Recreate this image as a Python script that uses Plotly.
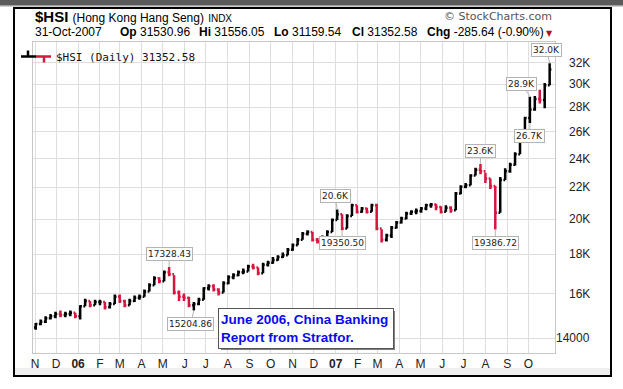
import numpy as np
import pandas as pd
import plotly.graph_objects as go

# ---------------- data (weekly bars) ----------------
dates = pd.date_range("2005-11-02", "2007-10-31", freq="W-WED")

close = [14600, 14700, 14850, 14950, 15050, 15000, 15050, 15100, 14950,
         15400, 15650, 15450, 15600, 15600, 15350, 15500, 15850,
         15650, 15450, 15650, 15800, 15850, 16100, 16400, 16750, 16600,
         17050, 16950, 16050, 15850, 15800, 15450, 15500, 15700, 16250,
         16350, 16200, 16050, 16500, 16800, 16900, 17050, 17100, 17350,
         17300, 17000, 17450, 17550, 17700, 17850, 17950, 18250,
         18500, 18800, 19150, 19250, 18800, 18700, 18950, 19250, 19950,
         20300, 19450, 20200, 20850, 20450, 20650, 20450, 20850, 19450,
         18800, 19050, 19500, 19800, 20050, 20350, 20450, 20500,
         20650, 20850, 20900, 20750, 20450, 20700, 20550, 21600, 22050,
         22150, 22800, 23200, 23100, 22600, 22100, 20400, 22500, 23100,
         23550, 24300, 25300, 27100, 27800, 28700, 28600, 29900, 31352.58]

high = [14650, 14800, 14950, 15050, 15150, 15200, 15150, 15200, 15100,
        15450, 15750, 15650, 15700, 15700, 15600, 15600, 15950,
        15950, 15700, 15750, 15900, 15950, 16200, 16500, 16850, 16800,
        17150, 17328.43, 16900, 16150, 16000, 15850, 15600, 15800, 16300,
        16450, 16450, 16250, 16600, 16900, 17000, 17150, 17250, 17450,
        17500, 17300, 17550, 17650, 17850, 17950, 18100, 18350,
        18600, 18900, 19250, 19350, 19250, 18900, 19050, 19350, 20050,
        20600, 20300, 20300, 20950, 20850, 20750, 20700, 20950, 20950,
        19400, 19150, 19600, 19900, 20150, 20450, 20550, 20650,
        20750, 20950, 21000, 20950, 20800, 20850, 20800, 21700, 22150,
        22300, 22900, 23350, 23600, 23000, 22600, 22100, 22700, 23300,
        23700, 24450, 25450, 27200, 28900, 28950, 29500, 30100, 31958]

low = [14350, 14550, 14650, 14800, 14850, 14900, 14900, 14950, 14850,
       14800, 15400, 15350, 15450, 15450, 15250, 15300, 15500,
       15550, 15350, 15450, 15600, 15700, 15850, 16100, 16400, 16500,
       16600, 16850, 15950, 15650, 15650, 15350, 15204.86, 15450, 15700,
       16150, 16100, 15900, 16050, 16450, 16700, 16850, 16950, 17100,
       17200, 16900, 17000, 17350, 17500, 17650, 17800, 17950,
       18200, 18500, 18800, 19050, 18700, 18600, 18650, 18950, 19250,
       19950, 19350.50, 19450, 20200, 20350, 20400, 20350, 20450, 19350,
       18650, 18700, 18900, 19450, 19750, 20000, 20250, 20300,
       20400, 20550, 20700, 20550, 20350, 20450, 20400, 20550, 21550,
       21950, 22150, 22800, 22900, 22300, 21900, 19386.72, 20400, 22500,
       23000, 23500, 24300, 25300, 26700, 27700, 28300, 27900, 29900]

first_open = 14450
opens = [first_open] + close[:-1]

month_starts = pd.date_range("2005-11-01", "2007-10-01", freq="MS")
month_labels = ["N", "D", "<b>06</b>", "F", "M", "A", "M", "J", "J", "A", "S", "O",
                "N", "D", "<b>07</b>", "F", "M", "A", "M", "J", "J", "A", "S", "O"]

ytick_vals = [14000, 16000, 18000, 20000, 22000, 24000, 26000, 28000, 30000, 32000]
ytick_text = ["14000", "16K", "18K", "20K", "22K", "24K", "26K", "28K", "30K", "32K"]

label_idx = [27, 32, 61, 62, 90, 93, 100, 100, 104]
label_kind = ["high", "low", "high", "low", "high", "low", "low", "high", "high"]
label_text = ["17328.43", "15204.86", "20.6K", "19350.50", "23.6K", "19386.72",
              "26.7K", "28.9K", "32.0K"]
label_dx = [0, -3, -2, 0, 0, 0, 0, -8, -3]

header_title = "$HSI"
header_name = "(Hong Kong Hang Seng)"
header_exch = "INDX"
quote_date = "31-Oct-2007"
quote_fields = [("Op", "31530.96"), ("Hi", "31556.05"), ("Lo", "31159.54"),
                ("Cl", "31352.58"), ("Chg", "-285.64 (-0.90%)")]
legend_name = "$HSI (Daily) 31352.58"
note_text = "June 2006, China Banking<br>Report from Stratfor."

# ---------------- layout helpers (pixel -> paper) ----------------
W, H = 623, 389
PL, PR, PT, PB = 33, 555, 42, 353


def px(x):
    return (x - PL) / (PR - PL)


def py(y):
    return (PB - y) / (PB - PT)


fig = go.Figure()
fig.add_trace(go.Ohlc(
    x=dates, open=opens, high=high, low=low, close=close,
    increasing_line_color="#000000", decreasing_line_color="#d8143f",
    line_width=2.5, tickwidth=0.35, name=legend_name, showlegend=True,
    hoverinfo="skip"))

ann = []
# data labels
for i, k, t, dx in zip(label_idx, label_kind, label_text, label_dx):
    v = high[i] if k == "high" else low[i]
    ann.append(dict(x=dates[i], y=np.log10(v), xref="x", yref="y", text=t,
                    showarrow=True, arrowhead=0, arrowwidth=1, arrowcolor="#b4b4b4",
                    ax=dx, ay=(-13 if k == "high" else 13), standoff=0,
                    bgcolor="white", bordercolor="#b4b4b4", borderwidth=1, borderpad=1,
                    font=dict(family="DejaVu Sans", size=9, color="#222")))
# right-aligned y tick labels
for v, t in zip(ytick_vals, ytick_text):
    ann.append(dict(x=px(592), y=np.log10(v), xref="paper", yref="y", text=t,
                    showarrow=False, xanchor="right", yanchor="middle",
                    font=dict(family="Liberation Sans", size=12, color="#222")))
# header
ann.append(dict(x=px(33), y=py(17), xref="paper", yref="paper", showarrow=False,
                xanchor="left", yanchor="middle",
                text=f"<b>{header_title}</b> <span style='font-size:12px'>{header_name}</span> "
                     f"<span style='font-size:10px'>{header_exch}</span>",
                font=dict(family="Liberation Sans", size=15, color="#000")))
ann.append(dict(x=px(554), y=py(17), xref="paper", yref="paper", showarrow=False,
                xanchor="right", yanchor="middle", text="© StockCharts.com",
                font=dict(family="DejaVu Sans", size=11, color="#555")))
ann.append(dict(x=px(33), y=py(32), xref="paper", yref="paper", showarrow=False,
                xanchor="left", yanchor="middle", text=quote_date,
                font=dict(family="Liberation Sans", size=12, color="#000")))
qx = [118, 197, 272, 350, 425]
for (lab, val), x0 in zip(quote_fields, qx):
    ann.append(dict(x=px(x0), y=py(32), xref="paper", yref="paper", showarrow=False,
                    xanchor="left", yanchor="middle",
                    text=f"<b>{lab}</b> {val}",
                    font=dict(family="Liberation Sans", size=12, color="#000")))
ann.append(dict(x=px(549), y=py(33), xref="paper", yref="paper", showarrow=False,
                xanchor="center", yanchor="middle", text="▼",
                font=dict(family="DejaVu Sans", size=8, color="#b0102a")))
# callout note
ann.append(dict(x=px(218), y=py(308), xref="paper", yref="paper", showarrow=False,
                xanchor="left", yanchor="top", text=f"<b>{note_text}</b>", align="left",
                width=170, height=35, borderpad=2, bgcolor="white",
                bordercolor="#555", borderwidth=1,
                font=dict(family="Liberation Sans", size=13.5, color="#0a0aee")))

shapes = [
    dict(type="rect", xref="paper", yref="paper", x0=px(0), x1=px(623), y0=py(0), y1=py(5),
         fillcolor="#5a5a5a", line=dict(width=0), layer="below"),
    dict(type="rect", xref="paper", yref="paper", x0=px(0), x1=px(623), y0=py(5), y1=py(6.5),
         fillcolor="#a0a0a0", line=dict(width=0), layer="below"),
    dict(type="rect", xref="paper", yref="paper", x0=px(15), x1=px(610), y0=py(368), y1=py(375),
         fillcolor="#efefef", line=dict(width=0), layer="below"),
    dict(type="rect", xref="paper", yref="paper", x0=px(14), x1=px(611), y0=py(8), y1=py(376),
         fillcolor="rgba(0,0,0,0)", line=dict(color="#000", width=2), layer="above"),
    dict(type="rect", xref="paper", yref="paper", x0=px(221), x1=px(395), y0=py(311), y1=py(350),
         fillcolor="#808080", line=dict(width=0), layer="above"),
]

fig.update_layout(
    width=W, height=H, margin=dict(l=PL, r=W - PR, t=PT, b=H - PB, pad=0),
    paper_bgcolor="white", plot_bgcolor="white",
    annotations=ann, shapes=shapes,
    showlegend=True,
    legend=dict(x=px(16), y=1, xanchor="left", yanchor="top", bgcolor="rgba(0,0,0,0)",
                font=dict(family="DejaVu Sans Mono", size=11, color="#111"),
                itemwidth=30, borderwidth=0),
    xaxis=dict(type="date", range=["2005-10-29 04:00", "2007-11-07 14:00"],
               tickvals=month_starts, ticktext=month_labels, ticks="",
               showgrid=True, gridcolor="#dedede", gridwidth=1,
               showline=True, linecolor="#c8c8c8", mirror=True, zeroline=False,
               tickfont=dict(family="Liberation Sans", size=12, color="#222"),
               rangeslider=dict(visible=False)),
    yaxis=dict(type="log", range=[4.126566, 4.53215], side="right",
               tickvals=ytick_vals, showticklabels=False, ticks="",
               showgrid=True, gridcolor="#dedede", gridwidth=1,
               showline=True, linecolor="#c8c8c8", mirror=True, zeroline=False),
)

fig.write_html("out.html", config={"displayModeBar": False},
               post_script="document.body.style.margin='0px';document.body.style.overflow='hidden';")
